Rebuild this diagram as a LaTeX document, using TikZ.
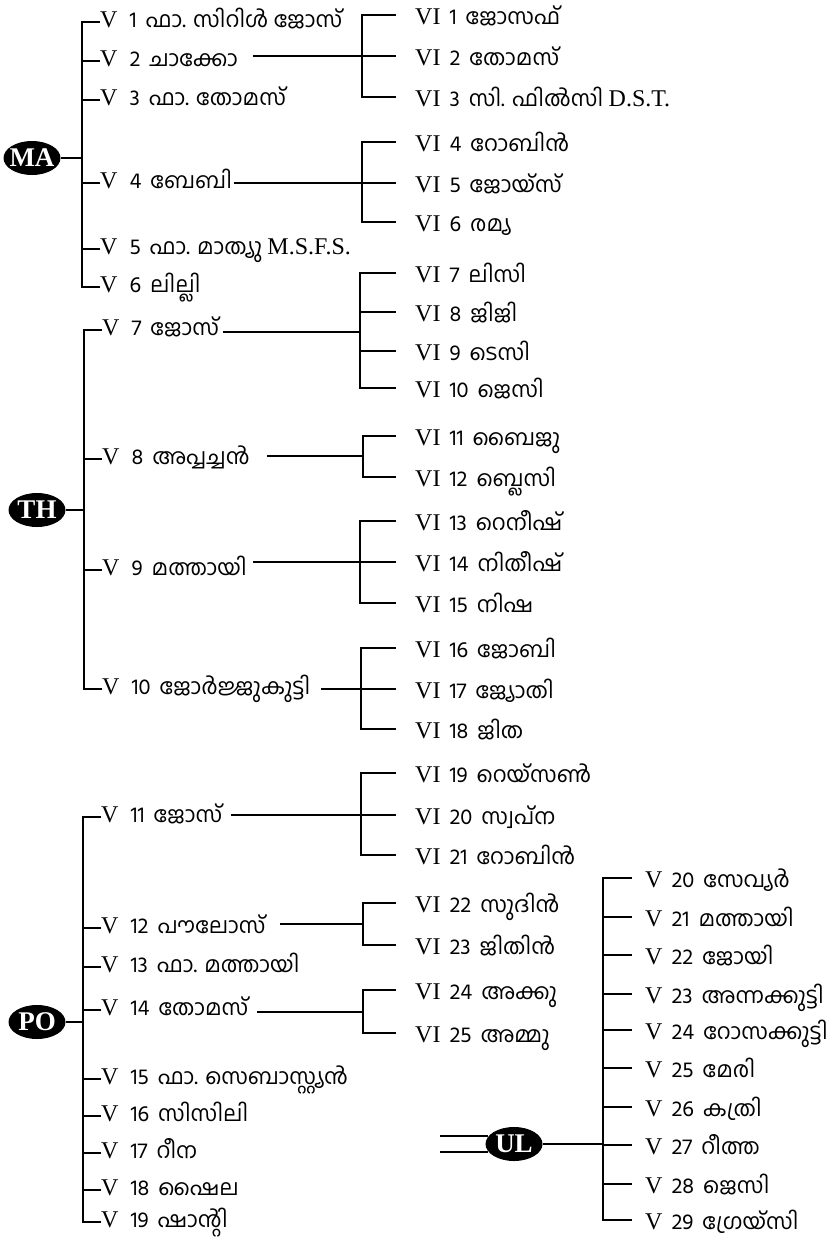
\documentclass[tikz,border=0pt]{standalone}
\usepackage{fontspec}
\setmainfont{Liberation Serif}
\newfontfamily\mlfont[Script=Malayalam]{Hind Kochi}
\usetikzlibrary{shapes.geometric}
\newcommand\rn[1]{{\rmfamily\fontsize{24pt}{26pt}\selectfont #1}}
% generation label: roman numeral, number, name
\newcommand\gl[3]{\rn{#1}\hspace{12pt}#2\hspace{9pt}#3}
\newcommand\gm[3]{\rn{#1}\hspace{9pt}#2\hspace{9pt}#3}

\begin{document}
\begin{tikzpicture}[x=1pt,y=-1pt]

    \tikzset{
      tree/.style={line width=1.5pt},
      gen5/.style={anchor=west, inner sep=0pt,
        font=\mlfont\fontsize{22pt}{26pt}\selectfont,
        text height=16pt, text depth=6pt},
      gen6/.style={anchor=west, inner ysep=0pt, inner xsep=19pt,
        font=\mlfont\fontsize{22pt}{26pt}\selectfont,
        text height=22pt, text depth=4pt},
      gen5r/.style={gen6, inner xsep=13pt},
      house/.style={ellipse, fill=black, inner sep=0pt,
        minimum width=57pt, minimum height=34pt,
        label={[text=white, font=\rmfamily\bfseries\fontsize{27pt}{30pt}\selectfont]center:#1}},
    }
    \useasboundingbox (0,0) rectangle (832,1240);

	% MA
	\node[house=MA] (MA) at (32,158) {};
	\coordinate (maj) at (82,158);
	\node[gen5] (v1) at (100,22) {\gl{V}{1}{ഫാ. സിറിൾ ജോസ്}};
	\node[gen5] (v2) at (100,61) {\gl{V}{2}{ചാക്കോ}};
	\node[gen5] (v3) at (100,100) {\gl{V}{3}{ഫാ. തോമസ്}};
	\node[gen5] (v4) at (100,183) {\gl{V}{4}{ബേബി}};
	\node[gen5] (v5) at (100,249) {\gl{V}{5}{ഫാ. മാത്യു \rn{M.S.F.S.}}};
	\node[gen5] (v6) at (100,287) {\gl{V}{6}{ലില്ലി}};
	\draw[tree] (MA) -- (maj);
	\draw[tree] (v1.west) -| (maj) |- (v6.west);
	\draw[tree] (v2.west) -- (v2.west -| maj);
	\draw[tree] (v3.west) -- (v3.west -| maj);
	\draw[tree] (v4.west) -- (v4.west -| maj);
	\draw[tree] (v5.west) -- (v5.west -| maj);

	\coordinate (b1) at (362,56);
	\node[gen6] (vi1) at (396,15) {\gm{VI}{1}{ജോസഫ്}};
	\node[gen6] (vi2) at (396,56) {\gm{VI}{2}{തോമസ്}};
	\node[gen6] (vi3) at (396,97) {\gm{VI}{3}{സി. ഫിൽസി \rn{D.S.T.}}};
	\draw[tree] (vi1.west) -| (b1) |- (vi3.west);
	\draw[tree] (vi2.west) -- (b1);
	\draw[tree, shorten >=15pt] (b1) -- (b1 -| v2.east);

	\coordinate (b2) at (362,183);
	\node[gen6] (vi4) at (396,142) {\gm{VI}{4}{റോബിൻ}};
	\node[gen6] (vi5) at (396,183) {\gm{VI}{5}{ജോയ്സ്}};
	\node[gen6] (vi6) at (396,222) {\gm{VI}{6}{രമ്യ}};
	\draw[tree] (vi4.west) -| (b2) |- (vi6.west);
	\draw[tree] (vi5.west) -- (b2);
	\draw[tree, shorten >=2pt] (b2) -- (b2 -| v4.east);

	% TH
	\node[house=TH] (TH) at (37,510) {};
	\coordinate (thj) at (84,510);
	\node[gen5] (v7) at (102,330) {\gl{V}{7}{ജോസ്}};
	\node[gen5] (v8) at (102,459) {\gl{V}{8}{അപ്പച്ചൻ}};
	\node[gen5] (v9) at (102,570) {\gl{V}{9}{മത്തായി}};
	\node[gen5] (v10) at (102,689) {\gl{V}{10}{ജോർജ്ജുകുട്ടി}};
	\draw[tree] (TH) -- (thj);
	\draw[tree] (v7.west) -| (thj) |- (v10.west);
	\draw[tree] (v8.west) -- (v8.west -| thj);
	\draw[tree] (v9.west) -- (v9.west -| thj);

	\coordinate (b3) at (360,332);
	\node[gen6] (vi7) at (396,273) {\gm{VI}{7}{ലിസി}};
	\node[gen6] (vi8) at (396,312) {\gm{VI}{8}{ജിജി}};
	\node[gen6] (vi9) at (396,351) {\gm{VI}{9}{ടെസി}};
	\node[gen6] (vi10) at (396,388) {\gm{VI}{10}{ജെസി}};
	\draw[tree] (vi7.west) -| (b3) |- (vi10.west);
	\draw[tree] (vi8.west) -- (vi8.west -| b3);
	\draw[tree] (vi9.west) -- (vi9.west -| b3);
	\draw[tree, shorten >=4pt] (b3) -- (b3 -| v7.east);

	\coordinate (b4) at (363,456);
	\node[gen6] (vi11) at (396,436) {\gm{VI}{11}{ബൈജു}};
	\node[gen6] (vi12) at (396,477) {\gm{VI}{12}{ബ്ലെസി}};
	\draw[tree] (vi11.west) -| (b4) |- (vi12.west);
	\draw[tree, shorten >=17pt] (b4) -- (b4 -| v8.east);

	\coordinate (b5) at (360,562);
	\node[gen6] (vi13) at (396,521) {\gm{VI}{13}{റെനീഷ്}};
	\node[gen6] (vi14) at (396,562) {\gm{VI}{14}{നിതീഷ്}};
	\node[gen6] (vi15) at (396,603) {\gm{VI}{15}{നിഷ}};
	\draw[tree] (vi13.west) -| (b5) |- (vi15.west);
	\draw[tree] (vi14.west) -- (b5);
	\draw[tree, shorten >=6pt] (b5) -- (b5 -| v9.east);

	\coordinate (b6) at (361,689);
	\node[gen6] (vi16) at (396,648) {\gm{VI}{16}{ജോബി}};
	\node[gen6] (vi17) at (396,689) {\gm{VI}{17}{ജ്യോതി}};
	\node[gen6] (vi18) at (396,729) {\gm{VI}{18}{ജിത}};
	\draw[tree] (vi16.west) -| (b6) |- (vi18.west);
	\draw[tree] (vi17.west) -- (b6);
	\draw[tree, shorten >=11pt] (b6) -- (b6 -| v10.east);

	% PO
	\node[house=PO] (PO) at (37,1022) {};
	\coordinate (poj) at (83,1022);
	\node[gen5] (v11) at (101,817) {\gl{V}{11}{ജോസ്}};
	\node[gen5] (v12) at (101,928) {\gl{V}{12}{പൗലോസ്}};
	\node[gen5] (v13) at (101,967) {\gl{V}{13}{ഫാ. മത്തായി}};
	\node[gen5] (v14) at (101,1010) {\gl{V}{14}{തോമസ്}};
	\node[gen5] (v15) at (101,1079) {\gl{V}{15}{ഫാ. സെബാസ്റ്റ്യൻ}};
	\node[gen5] (v16) at (101,1116) {\gl{V}{16}{സിസിലി}};
	\node[gen5] (v17) at (101,1153) {\gl{V}{17}{റീന}};
	\node[gen5] (v18) at (101,1190) {\gl{V}{18}{ഷൈല}};
	\node[gen5] (v19) at (101,1222) {\gl{V}{19}{ഷാന്റി}};
	\draw[tree] (PO) -- (poj);
	\draw[tree] (v11.west) -| (poj) |- (v19.west);
	\draw[tree] (v12.west) -- (v12.west -| poj);
	\draw[tree] (v13.west) -- (v13.west -| poj);
	\draw[tree] (v14.west) -- (v14.west -| poj);
	\draw[tree] (v15.west) -- (v15.west -| poj);
	\draw[tree] (v16.west) -- (v16.west -| poj);
	\draw[tree] (v17.west) -- (v17.west -| poj);
	\draw[tree] (v18.west) -- (v18.west -| poj);

	\coordinate (b7) at (361,815);
	\node[gen6] (vi19) at (396,773) {\gm{VI}{19}{റെയ്സൺ}};
	\node[gen6] (vi20) at (396,815) {\gm{VI}{20}{സ്വപ്ന}};
	\node[gen6] (vi21) at (396,855) {\gm{VI}{21}{റോബിൻ}};
	\draw[tree] (vi19.west) -| (b7) |- (vi21.west);
	\draw[tree] (vi20.west) -- (b7);
	\draw[tree, shorten >=9pt] (b7) -- (b7 -| v11.east);

	\coordinate (b8) at (363,924);
	\node[gen6] (vi22) at (396,903) {\gm{VI}{22}{സുദിൻ}};
	\node[gen6] (vi23) at (396,945) {\gm{VI}{23}{ജിതിൻ}};
	\draw[tree] (vi22.west) -| (b8) |- (vi23.west);
	\draw[tree, shorten >=14pt] (b8) -- (b8 -| v12.east);

	\coordinate (b9) at (363,1012);
	\node[gen6] (vi24) at (396,990) {\gm{VI}{24}{അക്കു}};
	\node[gen6] (vi25) at (396,1033) {\gm{VI}{25}{അമ്മു}};
	\draw[tree] (vi24.west) -| (b9) |- (vi25.west);
	\draw[tree, shorten >=9pt] (b9) -- (b9 -| v14.east);

	% UL
	\node[house=UL] (UL) at (514,1144) {};
	\coordinate (ulj) at (603,1144);
	\coordinate (dbl) at (440,1144);
	\node[gen5r] (v20) at (632,878) {\gm{V}{20}{സേവ്യർ}};
	\node[gen5r] (v21) at (632,917) {\gm{V}{21}{മത്തായി}};
	\node[gen5r] (v22) at (632,955) {\gm{V}{22}{ജോയി}};
	\node[gen5r] (v23) at (632,994) {\gm{V}{23}{അന്നക്കുട്ടി}};
	\node[gen5r] (v24) at (632,1030) {\gm{V}{24}{റോസക്കുട്ടി}};
	\node[gen5r] (v25) at (632,1068) {\gm{V}{25}{മേരി}};
	\node[gen5r] (v26) at (632,1107) {\gm{V}{26}{കത്രി}};
	\node[gen5r] (v27) at (632,1145) {\gm{V}{27}{റീത്ത}};
	\node[gen5r] (v28) at (632,1184) {\gm{V}{28}{ജെസി}};
	\node[gen5r] (v29) at (632,1220) {\gm{V}{29}{ഗ്രേയ്സി}};
	\draw[tree] (UL) -- (ulj);
	\draw[tree] (UL.163) -- (UL.163 -| dbl);
	\draw[tree] (UL.197) -- (UL.197 -| dbl);
	\draw[tree] (v20.west) -| (ulj) |- (v29.west);
	\draw[tree] (v21.west) -- (v21.west -| ulj);
	\draw[tree] (v22.west) -- (v22.west -| ulj);
	\draw[tree] (v23.west) -- (v23.west -| ulj);
	\draw[tree] (v24.west) -- (v24.west -| ulj);
	\draw[tree] (v25.west) -- (v25.west -| ulj);
	\draw[tree] (v26.west) -- (v26.west -| ulj);
	\draw[tree] (v27.west) -- (v27.west -| ulj);
	\draw[tree] (v28.west) -- (v28.west -| ulj);

\end{tikzpicture}
\end{document}
